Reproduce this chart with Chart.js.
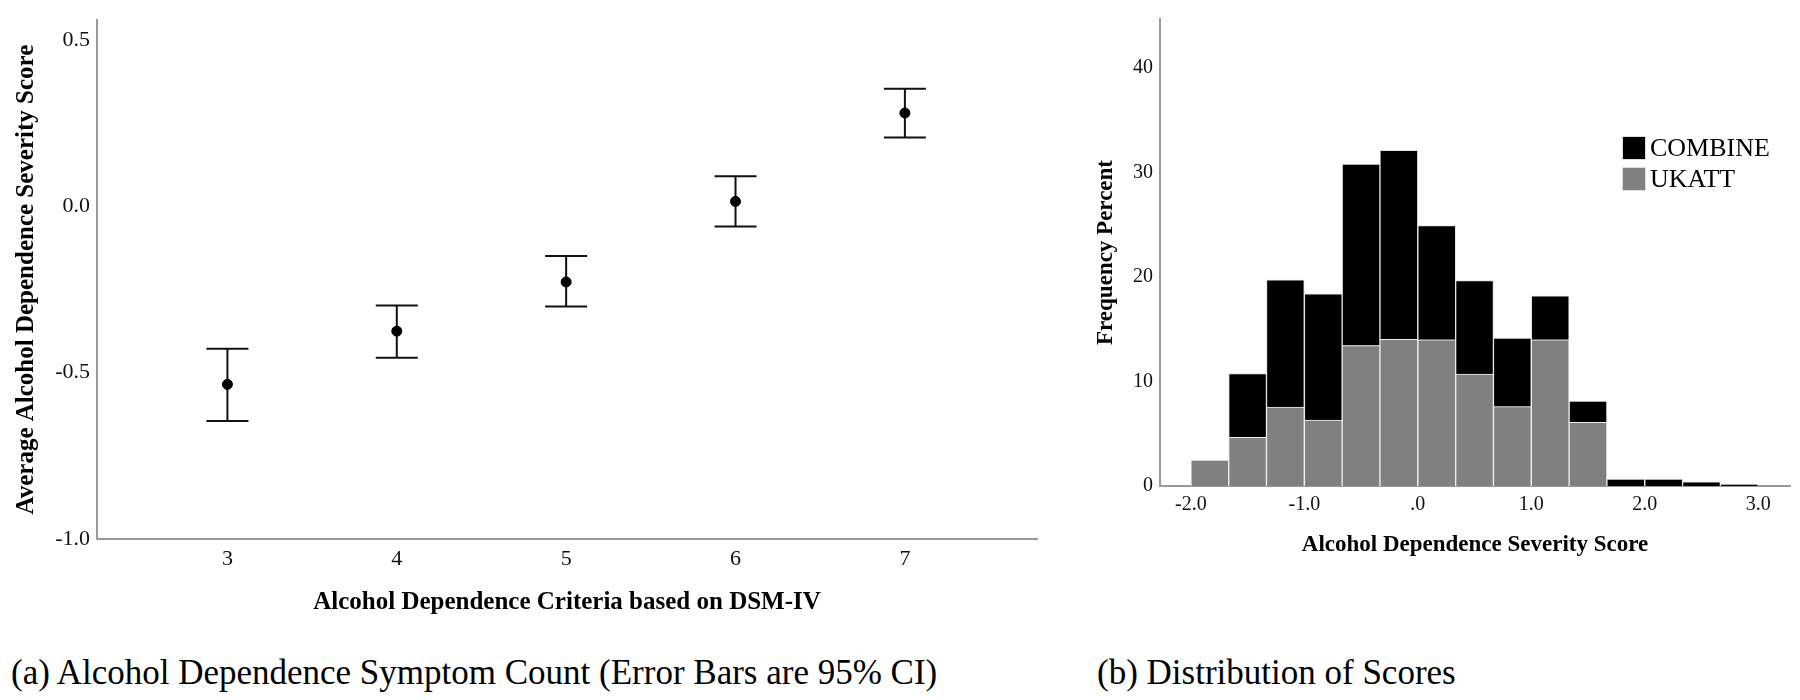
<!DOCTYPE html>
<html>
<head>
<meta charset="utf-8">
<script src="https://cdn.jsdelivr.net/npm/chart.js@4"></script>
<style>
  body { margin: 0; background: #fff; width: 1800px; height: 700px; position: relative; overflow: hidden;
         font-family: 'Liberation Serif', 'Times New Roman', serif; color: #000; }
  #leftBox { position: absolute; left: 0; top: 0; width: 1060px; height: 640px; }
  #rightBox { position: absolute; left: 1060px; top: 0; width: 740px; height: 640px; }
  .caption { position: absolute; top: 653px; font-size: 35px; line-height: 40px; white-space: nowrap; }
  #legend { position: absolute; left: 1622px; top: 136px; font-size: 26px; }
  .item { display: flex; align-items: center; height: 24px; line-height: 24px; margin-bottom: 6.7px; }
  .swatch { width: 24px; height: 24px; margin-right: 4px; box-sizing: border-box; border: 1px solid #ddd; }
</style>
</head>
<body>
<div id="leftBox"><canvas id="symptomChart"></canvas></div>
<div id="rightBox"><canvas id="scoreChart"></canvas></div>
<div id="legend"></div>
<div class="caption" style="left:11px">(a) Alcohol Dependence Symptom Count (Error Bars are 95% CI)</div>
<div class="caption" style="left:1097px">(b) Distribution of Scores</div>

<script>
// (a) mean score per criteria count, with 95% CI
var criteria = [3, 4, 5, 6, 7];
var meanScore = [-0.535, -0.375, -0.227, 0.015, 0.281];
var ciLower = [-0.645, -0.455, -0.301, -0.060, 0.207];
var ciUpper = [-0.428, -0.298, -0.149, 0.091, 0.354];
var leftYTicks = [-1.0, -0.5, 0.0, 0.5];
var leftYLabels = ['-1.0', '-0.5', '0.0', '0.5'];

// (b) histogram, bins of width 1/3 from -2 to 3 (frequency percent)
var binMid = [-1.833, -1.5, -1.167, -0.833, -0.5, -0.167, 0.167, 0.5, 0.833, 1.167, 1.5, 1.833, 2.167, 2.5, 2.833];
var ukatt = [2.47, 4.65, 7.56, 6.31, 13.44, 14.05, 13.99, 10.71, 7.59, 13.99, 6.09, null, null, null, null];
var combine = [null, 6.12, 12.18, 12.09, 17.38, 18.08, 10.93, 8.96, 6.58, 4.21, 2.03, 0.66, 0.66, 0.41, 0.16];
var rightXTicks = [-2, -1, 0, 1, 2, 3];
var rightXLabels = ['-2.0', '-1.0', '.0', '1.0', '2.0', '3.0'];
var rightYTicks = [0, 10, 20, 30, 40];

Chart.defaults.font.family = "'Liberation Serif', 'Times New Roman', serif";
Chart.defaults.color = '#000';

function fixTicks(values) {
  return function (axis) { axis.ticks = values.map(function (v) { return { value: v }; }); };
}
function fixSize(key, size) {
  return function (axis) { axis[key] = size; };
}

// draw whiskers and caps under the mean points
var errorBars = {
  id: 'errorBars',
  beforeDatasetsDraw: function (chart) {
    var ctx = chart.ctx, xs = chart.scales.x, ys = chart.scales.y;
    ctx.save();
    ctx.strokeStyle = '#111';
    ctx.lineWidth = 2;
    for (var i = 0; i < criteria.length; i++) {
      var x = xs.getPixelForValue(criteria[i]);
      var top = ys.getPixelForValue(ciUpper[i]);
      var bot = ys.getPixelForValue(ciLower[i]);
      ctx.beginPath();
      ctx.moveTo(x, top); ctx.lineTo(x, bot);
      ctx.moveTo(x - 21, top); ctx.lineTo(x + 21, top);
      ctx.moveTo(x - 21, bot); ctx.lineTo(x + 21, bot);
      ctx.stroke();
    }
    ctx.restore();
  }
};

new Chart(document.getElementById('symptomChart'), {
  type: 'scatter',
  data: {
    datasets: [{
      label: 'Mean',
      data: criteria.map(function (c, i) { return { x: c, y: meanScore[i] }; }),
      pointRadius: 5,
      backgroundColor: '#000',
      borderColor: '#000'
    }]
  },
  options: {
    responsive: true,
    maintainAspectRatio: false,
    animation: false,
    events: [],
    layout: { padding: { top: 12, right: 23, left: 0, bottom: 0 } },
    plugins: { legend: { display: false }, tooltip: { enabled: false } },
    scales: {
      x: {
        type: 'linear', min: 2.23, max: 7.78,
        afterBuildTicks: fixTicks(criteria),
        afterFit: fixSize('height', 101),
        grid: { display: false, drawTicks: false },
        border: { color: '#999', width: 2 },
        ticks: { padding: 7, font: { size: 22 }, color: '#111' },
        title: { display: true, text: 'Alcohol Dependence Criteria based on DSM-IV',
                 font: { size: 25, weight: 'bold' }, padding: { top: 0, bottom: 22 } }
      },
      y: {
        min: -1.0, max: 0.56,
        afterBuildTicks: fixTicks(leftYTicks),
        afterFit: fixSize('width', 97),
        grid: { display: false, drawTicks: false },
        border: { color: '#999', width: 2 },
        ticks: { padding: 7, font: { size: 22 }, color: '#111',
                 callback: function (v) { return leftYLabels[leftYTicks.indexOf(v)]; } },
        title: { display: true, text: 'Average Alcohol Dependence Severity Score',
                 font: { size: 25, weight: 'bold' }, padding: { top: 12, bottom: 0 } }
      }
    }
  },
  plugins: [errorBars]
});

var scoreChart = new Chart(document.getElementById('scoreChart'), {
  type: 'bar',
  data: {
    datasets: [{
      label: 'UKATT',
      data: binMid.map(function (b, i) { return { x: b, y: ukatt[i] }; }),
      backgroundColor: '#808080',
      borderColor: '#eeeeee',
      borderWidth: 1,
      stack: 'all',
      barPercentage: 1,
      categoryPercentage: 1
    }, {
      label: 'COMBINE',
      data: binMid.map(function (b, i) { return { x: b, y: combine[i] }; }),
      backgroundColor: '#000',
      borderColor: '#e4e4e4',
      borderWidth: 1,
      stack: 'all',
      barPercentage: 1,
      categoryPercentage: 1
    }]
  },
  options: {
    responsive: true,
    maintainAspectRatio: false,
    animation: false,
    events: [],
    layout: { padding: { top: 9, right: 10, left: 0, bottom: 0 } },
    plugins: { legend: { display: false }, tooltip: { enabled: false } },
    scales: {
      x: {
        type: 'linear', min: -2.272, max: 3.28, offset: false,
        afterBuildTicks: fixTicks(rightXTicks),
        afterFit: fixSize('height', 154),
        grid: { display: false, drawTicks: false },
        border: { color: '#999', width: 2 },
        ticks: { padding: 7, font: { size: 20 }, color: '#111',
                 callback: function (v) { return rightXLabels[rightXTicks.indexOf(v)]; } },
        title: { display: true, text: 'Alcohol Dependence Severity Score',
                 font: { size: 23, weight: 'bold' }, padding: { top: 0, bottom: 81 } }
      },
      y: {
        min: 0, max: 44.7,
        afterBuildTicks: fixTicks(rightYTicks),
        afterFit: fixSize('width', 100),
        grid: { display: false, drawTicks: false },
        border: { color: '#999', width: 2 },
        ticks: { padding: 7, font: { size: 20 }, color: '#111' },
        title: { display: true, text: 'Frequency Percent',
                 font: { size: 23, weight: 'bold' }, padding: { top: 32, bottom: 0 } }
      }
    }
  }
});

// legend built from the datasets, COMBINE listed first
var legendBox = document.getElementById('legend');
scoreChart.data.datasets.slice().reverse().forEach(function (ds) {
  var item = document.createElement('div');
  item.className = 'item';
  item.innerHTML = '<span class="swatch" style="background:' + ds.backgroundColor + '"></span>' + ds.label;
  legendBox.appendChild(item);
});
</script>
</body>
</html>
